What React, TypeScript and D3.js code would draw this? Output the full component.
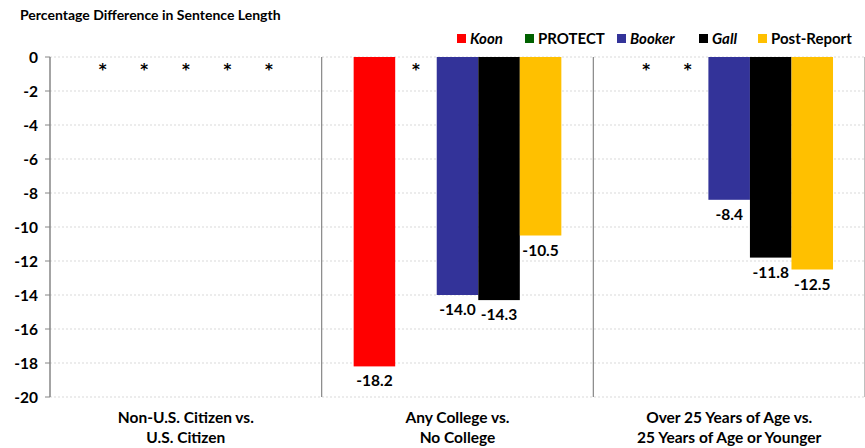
import React from "react";
import * as d3 from "d3";

const categories = ["Non-U.S. Citizen vs.|U.S. Citizen", "Any College vs.|No College", "Over 25 Years of Age vs.|25 Years of Age or Younger"];
const seriesNames = ["Koon", "PROTECT", "Booker", "Gall", "Post-Report"];
const seriesItalic = [true, false, true, true, false];
const seriesColors = ["#ff0000", "#006100", "#333399", "#000000", "#ffc000"];
// null = not significant (asterisk)
const koonValues: (number | null)[] = [null, -18.2, null];
const protectValues: (number | null)[] = [null, null, null];
const bookerValues: (number | null)[] = [null, -14.0, -8.4];
const gallValues: (number | null)[] = [null, -14.3, -11.8];
const postValues: (number | null)[] = [null, -10.5, -12.5];
const yTicks = [0, -2, -4, -6, -8, -10, -12, -14, -16, -18, -20];

const allValues = [koonValues, protectValues, bookerValues, gallValues, postValues];

const W = 865, H = 448;
const left = 50, right = 865, top = 57, bottom = 397;
const FONT = "Lato, 'DejaVu Sans', sans-serif";

export default function App() {
  const y = d3.scaleLinear().domain([0, -20]).range([top, bottom]);
  const x0 = d3.scaleBand().domain(categories).range([left, right]).paddingInner(0).paddingOuter(0);
  const inner = d3.scaleBand().domain(seriesNames).range([0, x0.bandwidth()]).paddingOuter(0.77).paddingInner(0);
  const bw = inner.bandwidth();

  const legendX = [457, 525, 617, 699, 758];

  return (
    <svg width={W} height={H} style={{ position: "absolute", left: 0, top: 0, fontFamily: FONT }}>
      <rect width={W} height={H} fill="#fff" />
      <text x={20} y={20} fontSize={14} fontWeight={700} fill="#000">Percentage Difference in Sentence Length</text>
      {/* legend */}
      {seriesNames.map((s, i) => (
        <g key={s}>
          <rect x={legendX[i]} y={34} width={9} height={9} fill={seriesColors[i]} />
          <text x={legendX[i] + 13} y={43.5} fontSize={15} fontWeight={700} fontStyle={seriesItalic[i] ? "italic" : "normal"}>{s}</text>
        </g>
      ))}
      {/* gridlines */}
      {yTicks.map(t => (
        <line key={t} x1={left} x2={right} y1={y(t)} y2={y(t)} stroke="#d9d9d9" strokeDasharray="2,2" />
      ))}
      {/* y axis */}
      <line x1={left} x2={left} y1={top} y2={bottom} stroke="#868686" strokeWidth={1.5} />
      {yTicks.map(t => (
        <g key={"t" + t}>
          <line x1={left - 5} x2={left} y1={y(t)} y2={y(t)} stroke="#868686" />
          <text x={38} y={y(t) + 5.5} textAnchor="end" fontSize={15.5} fontWeight={700}>{t}</text>
        </g>
      ))}
      {/* separators */}
      {categories.slice(1).map(c => (
        <line key={c} x1={x0(c)!} x2={x0(c)!} y1={top} y2={bottom} stroke="#868686" strokeWidth={1.2} />
      ))}
      <line x1={right - 0.5} x2={right - 0.5} y1={top} y2={bottom} stroke="#bfbfbf" />
      {/* bars */}
      {categories.map((c, ci) => (
        <g key={c}>
          {seriesNames.map((s, si) => {
            const v = allValues[si][ci];
            const bx = x0(c)! + inner(s)!;
            if (v === null) {
              return (
                <text key={s} x={bx + bw / 2} y={75} textAnchor="middle" fontSize={15} fontWeight={700} fontFamily="'DejaVu Sans', sans-serif">*</text>
              );
            }
            return (
              <g key={s}>
                <rect x={bx} y={y(0)} width={bw} height={y(v) - y(0)} fill={seriesColors[si]} />
                <text x={bx + bw / 2} y={y(v) + 20} textAnchor="middle" fontSize={15.5} fontWeight={700}>{v.toFixed(1)}</text>
              </g>
            );
          })}
          {c.split("|").map((line, li) => (
            <text key={li} x={x0(c)! + x0.bandwidth() / 2} y={423 + li * 20} textAnchor="middle" fontSize={15.5} fontWeight={700}>{line}</text>
          ))}
        </g>
      ))}
    </svg>
  );
}
